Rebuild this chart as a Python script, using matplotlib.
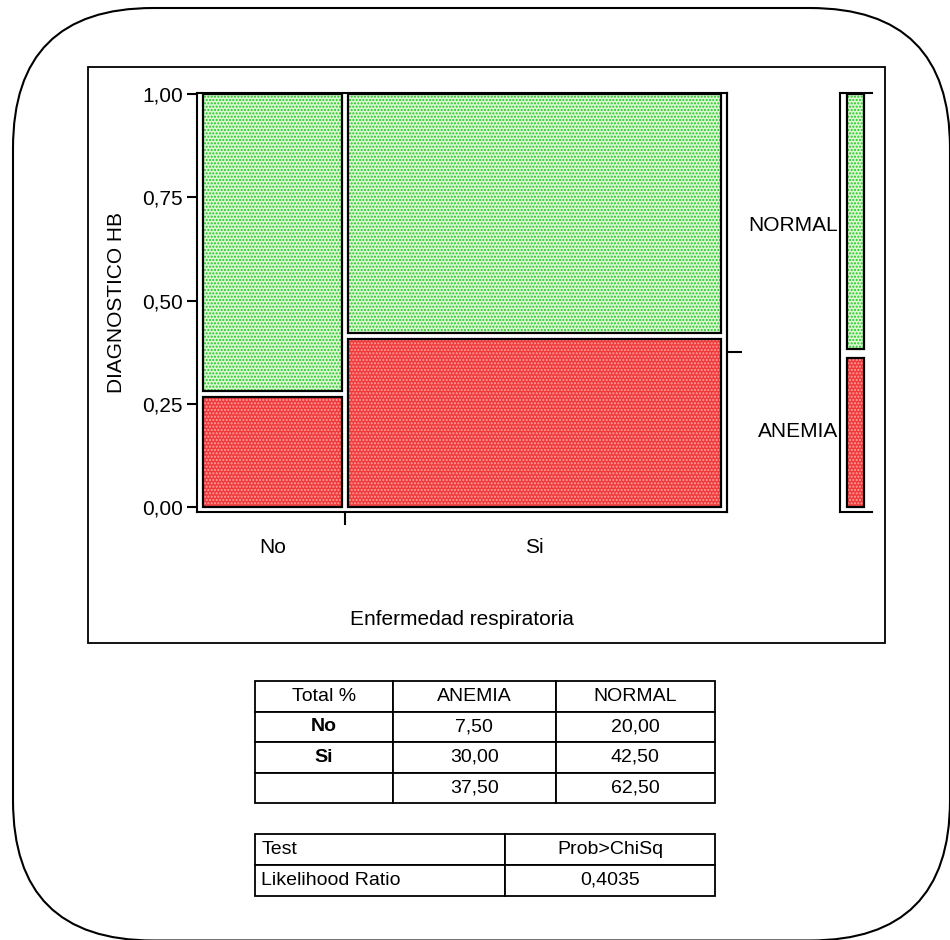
import matplotlib

matplotlib.use("Agg")
import matplotlib.pyplot as plt
from matplotlib.patches import Rectangle, FancyBboxPatch

plt.rcParams["font.family"] = ["Liberation Sans", "DejaVu Sans"]

# mosaic data, % of total
groups = ["No", "Si"]
levels = ["ANEMIA", "NORMAL"]
anemia = [7.5, 30.0]
normal = [20.0, 42.5]
test_name = "Likelihood Ratio"
prob_chisq = 0.4035

# (face colour, dot colour)
fill = {"ANEMIA": ("#f03a3a", "#ffa0a0"), "NORMAL": ("#dcf7d4", "#1cc81c")}


def fmt(v, nd=2):
    return f"{v:.{nd}f}".replace(".", ",")


def cell(ax, x0, x1, y0, y1, level):
    face, dots = fill[level]
    ax.add_patch(Rectangle((x0, y0), x1 - x0, y1 - y0, facecolor=face,
                           edgecolor=dots, lw=0, hatch=".....", zorder=2))
    ax.add_patch(Rectangle((x0, y0), x1 - x0, y1 - y0, fill=False,
                           edgecolor="black", lw=1.6, zorder=3))


fig = plt.figure(figsize=(9.5, 9.4), dpi=100)

# outer rounded border and chart frame (inches)
fig.add_artist(FancyBboxPatch((0.13, -0.005), 9.37, 9.325,
                              boxstyle="round,pad=0,rounding_size=1.4",
                              transform=fig.dpi_scale_trans, fill=False, lw=1.5))
fig.add_artist(Rectangle((0.88, 2.97), 7.97, 5.76, transform=fig.dpi_scale_trans,
                         fill=False, lw=1.3))

ylim = (-0.0121, 1.0024)
gx, gy = 0.0116, 0.0145

ax = fig.add_axes([197 / 950, 0.4553, 530 / 950, 0.4457])
ax.set_xlim(-0.0116, 1.0116)
ax.set_ylim(*ylim)

totals = [a + n for a, n in zip(anemia, normal)]
grand = sum(totals)
left = 0.0
centers = []
for i, (a, t) in enumerate(zip(anemia, totals)):
    w = t / grand
    x0 = left + (gx / 2 if i > 0 else 0)
    x1 = left + w - (gx / 2 if i < len(totals) - 1 else 0)
    share = a / t
    cell(ax, x0, x1, 0, share - gy / 2, "ANEMIA")
    cell(ax, x0, x1, share + gy / 2, 1, "NORMAL")
    centers.append((x0 + x1) / 2)
    left += w

yt = [0, 0.25, 0.5, 0.75, 1.0]
ax.set_yticks(yt)
ax.set_yticklabels([fmt(v) for v in yt])
ax.set_xticks([totals[0] / grand])
ax.set_xticklabels([""])
ax.set_xticks(centers, minor=True)
ax.set_xticklabels(groups, minor=True)
ax.tick_params(axis="y", length=7, width=1.5, labelsize=15, pad=3)
ax.tick_params(axis="x", which="major", length=9.4, width=1.5)
ax.tick_params(axis="x", which="minor", length=0, labelsize=15, pad=19)
for s in ax.spines.values():
    s.set_linewidth(1.5)
ax.set_ylabel("DIAGNOSTICO HB", fontsize=15, labelpad=12)
ax.set_xlabel("Enfermedad respiratoria", fontsize=15, labelpad=38)

anemia_share = sum(anemia) / grand
sec = ax.secondary_yaxis("right")
sec.set_yticks([anemia_share])
sec.set_yticklabels([""])
sec.tick_params(length=11, width=1.5)
sec.spines["right"].set_linewidth(1.5)

# legend bar
lax = fig.add_axes([840 / 950, 0.4553, 32 / 950, 0.4457])
lax.set_xlim(0, 1)
lax.set_ylim(*ylim)
cell(lax, 0.22, 0.75, 0, anemia_share - gy, "ANEMIA")
cell(lax, 0.22, 0.75, anemia_share + gy / 2, 1, "NORMAL")
lax.spines["right"].set_visible(False)
for s in ["left", "top", "bottom"]:
    lax.spines[s].set_linewidth(1.5)
lax.set_xticks([])
lax.set_yticks([anemia_share / 2, (1 + anemia_share) / 2])
lax.set_yticklabels(levels)
lax.tick_params(axis="y", length=0, labelsize=15, pad=1.5)

# contingency table
rows = [["Total %"] + levels]
for g, a, n in zip(groups, anemia, normal):
    rows.append([g, fmt(a), fmt(n)])
rows.append(["", fmt(sum(anemia)), fmt(sum(normal))])

tax = fig.add_axes([255 / 950, 0.1457, 460 / 950, 0.1298])
tax.axis("off")
tb = tax.table(cellText=rows, cellLoc="center", colWidths=[0.3, 0.354, 0.346],
               bbox=[0, 0, 1, 1])
tb.auto_set_font_size(False)
tb.set_fontsize(14)
for (r, c), cl in tb.get_celld().items():
    cl.set_linewidth(1.3)
    if c == 0 and 0 < r <= len(groups):
        cl.get_text().set_fontweight("bold")

# test table
tax2 = fig.add_axes([255 / 950, 0.0468, 460 / 950, 0.066])
tax2.axis("off")
tb2 = tax2.table(cellText=[["Test", "Prob>ChiSq"], [test_name, fmt(prob_chisq, 4)]],
                 cellLoc="center", colWidths=[0.5435, 0.4565], bbox=[0, 0, 1, 1])
tb2.auto_set_font_size(False)
tb2.set_fontsize(14)
for (r, c), cl in tb2.get_celld().items():
    cl.set_linewidth(1.3)
    if c == 0:
        cl.get_text().set_ha("left")
        cl.PAD = 0.025

fig.savefig("out.png", dpi=100)
